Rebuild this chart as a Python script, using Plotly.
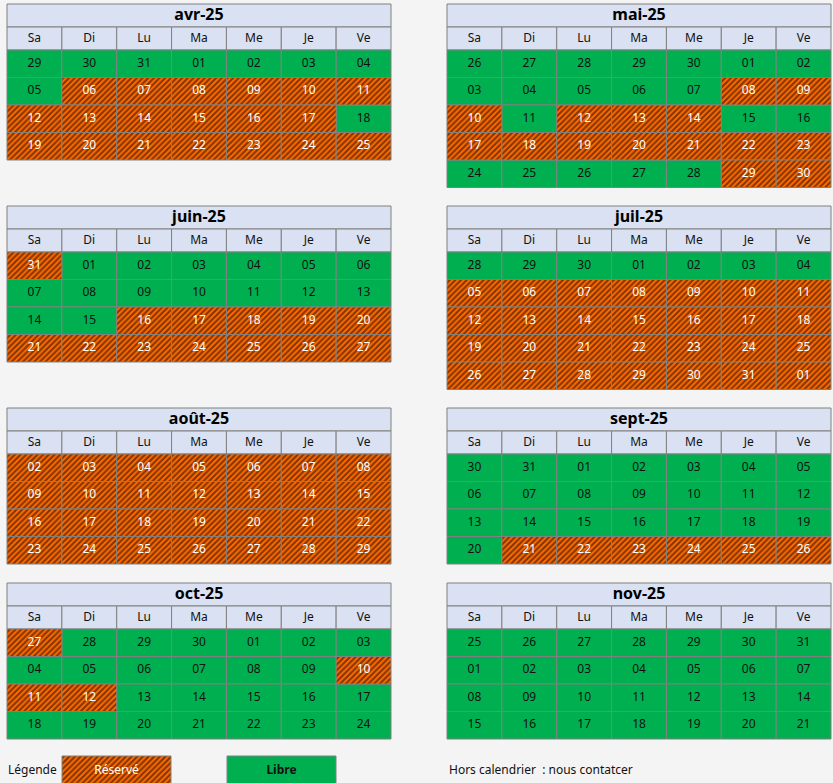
import plotly.graph_objects as go

months = ["avr-25", "mai-25", "juin-25", "juil-25", "août-25", "sept-25", "oct-25", "nov-25"]
weekdays = ["Sa", "Di", "Lu", "Ma", "Me", "Je", "Ve"]
days = {
    "avr-25": [["29","30","31","01","02","03","04"],["05","06","07","08","09","10","11"],["12","13","14","15","16","17","18"],["19","20","21","22","23","24","25"]],
    "mai-25": [["26","27","28","29","30","01","02"],["03","04","05","06","07","08","09"],["10","11","12","13","14","15","16"],["17","18","19","20","21","22","23"],["24","25","26","27","28","29","30"]],
    "juin-25": [["31","01","02","03","04","05","06"],["07","08","09","10","11","12","13"],["14","15","16","17","18","19","20"],["21","22","23","24","25","26","27"]],
    "juil-25": [["28","29","30","01","02","03","04"],["05","06","07","08","09","10","11"],["12","13","14","15","16","17","18"],["19","20","21","22","23","24","25"],["26","27","28","29","30","31","01"]],
    "août-25": [["02","03","04","05","06","07","08"],["09","10","11","12","13","14","15"],["16","17","18","19","20","21","22"],["23","24","25","26","27","28","29"]],
    "sept-25": [["30","31","01","02","03","04","05"],["06","07","08","09","10","11","12"],["13","14","15","16","17","18","19"],["20","21","22","23","24","25","26"]],
    "oct-25": [["27","28","29","30","01","02","03"],["04","05","06","07","08","09","10"],["11","12","13","14","15","16","17"],["18","19","20","21","22","23","24"]],
    "nov-25": [["25","26","27","28","29","30","31"],["01","02","03","04","05","06","07"],["08","09","10","11","12","13","14"],["15","16","17","18","19","20","21"]],
}
# R = réservé, L = libre
status = {
    "avr-25": ["LLLLLLL", "LRRRRRR", "RRRRRRL", "RRRRRRR"],
    "mai-25": ["LLLLLLL", "LLLLLRR", "RLRRRLL", "RRRRRRR", "LLLLLRR"],
    "juin-25": ["RLLLLLL", "LLLLLLL", "LLRRRRR", "RRRRRRR"],
    "juil-25": ["LLLLLLL", "RRRRRRR", "RRRRRRR", "RRRRRRR", "RRRRRRR"],
    "août-25": ["RRRRRRR", "RRRRRRR", "RRRRRRR", "RRRRRRR"],
    "sept-25": ["LLLLLLL", "LLLLLLL", "LLLLLLL", "LRRRRRR"],
    "oct-25": ["RLLLLLL", "LLLLLLR", "RRLLLLL", "LLLLLLL"],
    "nov-25": ["LLLLLLL", "LLLLLLL", "LLLLLLL", "LLLLLLL"],
}

# layout geometry
col_x = [7, 447]
block_top = [4, 206, 408, 583]
CW = 384 / 7
TH = 23
HH = 23
RH = 27.5
GREEN = "#00b050"
HEAD = "#d9e1f2"
GRID = "#808080"
FONT = "Noto Sans"

fig = go.Figure()
groups = {"head": ([], [], [], []), "L": ([], [], [], []), "R": ([], [], [], [])}
texts = {"black": ([], [], []), "white": ([], [], [])}
bold_texts = ([], [], [])

def add(kind, x0, w, y0, h):
    g = groups[kind]
    g[0].append(x0); g[1].append(w); g[2].append(y0 + h / 2); g[3].append(h)

for i, m in enumerate(months):
    x0 = col_x[i % 2]
    y0 = block_top[i // 2]
    add("head", x0, 7 * CW, y0, TH)
    bold_texts[0].append(x0 + 3.5 * CW); bold_texts[1].append(y0 + TH / 2); bold_texts[2].append(m)
    for j, wd in enumerate(weekdays):
        add("head", x0 + j * CW, CW, y0 + TH, HH)
        texts["black"][0].append(x0 + (j + .5) * CW); texts["black"][1].append(y0 + TH + HH / 2); texts["black"][2].append(wd)
    for r, week in enumerate(days[m]):
        for j, d in enumerate(week):
            s = status[m][r][j]
            yy = y0 + TH + HH + r * RH
            add(s, x0 + j * CW, CW, yy, RH)
            t = texts["black" if s == "L" else "white"]
            t[0].append(x0 + (j + .5) * CW); t[1].append(yy + RH / 2); t[2].append(d)

# legend boxes
add("R", 62, 109, 756, 28)
add("L", 227, 109, 756, 28)

styles = {
    "head": dict(color=HEAD, line=dict(color=GRID, width=1)),
    "L": dict(color=GREEN, line=dict(color=GRID, width=1)),
    "R": dict(color="#ff6a00", line=dict(color=GRID, width=1),
              pattern=dict(shape="/", fgcolor="#000000", bgcolor="#ff6a00", size=4, solidity=0.5)),
}
for k, (b, w, y, h) in groups.items():
    fig.add_trace(go.Bar(orientation="h", base=b, x=w, y=y, width=h, marker=styles[k],
                         hoverinfo="skip", showlegend=False))

fig.add_trace(go.Scatter(x=texts["black"][0], y=texts["black"][1], text=texts["black"][2], mode="text",
                         textfont=dict(family=FONT, size=12, color="#111"), showlegend=False, hoverinfo="skip"))
fig.add_trace(go.Scatter(x=texts["white"][0], y=texts["white"][1], text=texts["white"][2], mode="text",
                         textfont=dict(family=FONT, size=12, color="#ffffff"), showlegend=False, hoverinfo="skip"))
fig.add_trace(go.Scatter(x=bold_texts[0], y=bold_texts[1], text=bold_texts[2], mode="text",
                         textfont=dict(family=FONT, size=16, color="#000"), texttemplate="<b>%{text}</b>",
                         showlegend=False, hoverinfo="skip"))
legend_x = [8, 116.5, 281.5, 449]
legend_t = ["Légende", "Réservé", "<b>Libre</b>", "Hors calendrier  : nous contatcer"]
legend_c = ["#111", "#ffffff", "#111", "#111"]
fig.add_trace(go.Scatter(x=legend_x, y=[771] * 4, text=legend_t, mode="text",
                         textposition=["middle right", "middle center", "middle center", "middle right"],
                         textfont=dict(family=FONT, size=12, color=legend_c), showlegend=False, hoverinfo="skip"))

fig.update_layout(width=833, height=783, margin=dict(l=0, r=0, t=0, b=0),
                  paper_bgcolor="#f4f4f4", plot_bgcolor="#f4f4f4", barmode="overlay",
                  xaxis=dict(range=[0, 833], visible=False, fixedrange=True),
                  yaxis=dict(range=[783, 0], visible=False, fixedrange=True))
fig.write_html("out.html", config={"displayModeBar": False},
               post_script="document.body.style.margin='0';document.body.style.overflow='hidden';")
